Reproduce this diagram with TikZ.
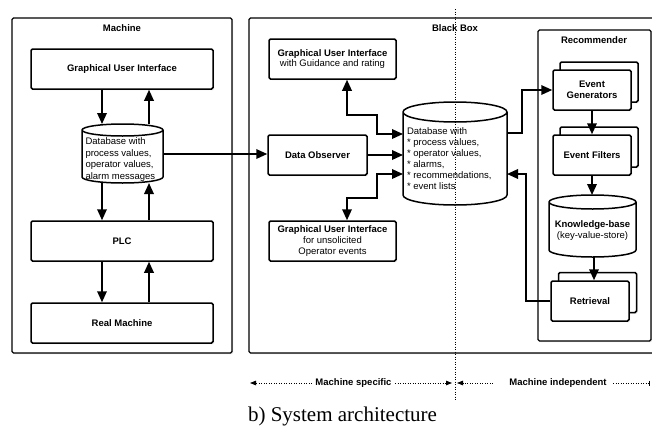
\documentclass[tikz,border=0pt]{standalone}
\usepackage{fontspec}
\setmainfont{Liberation Serif}
\newfontfamily\hv{Liberation Sans}
\usetikzlibrary{arrows.meta,calc,shadows}

\newcommand\dbcyl[3]{% node name, rx, ry
  \draw[dbline] let \p1=(#1.north west), \p2=(#1.south east) in
    (\x1,\y1-#3) -- (\x1,\y2+#3)
    arc[start angle=180,end angle=360,x radius=#2,y radius=#3]
    -- (\x2,\y1-#3)
    arc[start angle=0,end angle=180,x radius=#2,y radius=#3] -- cycle
    (\x1,\y1-#3) arc[start angle=180,end angle=360,x radius=#2,y radius=#3];}

\tikzset{
  every node/.style={font=\hv\fontsize{9.5}{11}\selectfont},
  frame/.style={draw, line width=1.3pt, rounded corners=1.5pt, fill=white,
    drop shadow={shadow xshift=1.2pt, shadow yshift=-1.2pt, opacity=0.25}},
  box/.style={draw, line width=1.5pt, rounded corners=1.5pt, fill=white,
    inner sep=0pt, align=center,
    drop shadow={shadow xshift=1.2pt, shadow yshift=-1.2pt, opacity=0.25}},
  arr/.style={line width=1.8pt, -{Triangle[length=11pt,width=9.5pt]}},
  arrb/.style={line width=1.8pt, {Triangle[length=11pt,width=9.5pt]}-{Triangle[length=11pt,width=9.5pt]}},
  dbline/.style={line width=1.5pt},
  dots/.style={line width=0.8pt, dash pattern=on 0.8pt off 1.7pt},
  lbl/.style={font=\hv\bfseries\fontsize{9.5}{11}\selectfont},
  hole/.style={inner sep=0pt, outer sep=0pt},
}

\begin{document}
\begin{tikzpicture}[x=1pt,y=-1pt]
\useasboundingbox (0,0) rectangle (652,431);

% frames
\node[frame, minimum width=220pt, minimum height=335pt] (machine) at (122,185.5) {};
\node[lbl] (machinel) at (122,28) {Machine};
\node[frame, minimum width=416pt, minimum height=335pt] (bbox) at (457,185.5) {};
\node[lbl] (bboxl) at (455,28) {Black Box};
\node[frame, minimum width=113pt, minimum height=311pt] (rec) at (594.5,185.5) {};
\node[lbl] (recl) at (594,40) {Recommender};

% machine side
\node[box, minimum width=182pt, minimum height=40pt] (gui1) at (122,69) {\bfseries Graphical User Interface};
\node[box, minimum width=182pt, minimum height=40pt] (plc) at (122,241) {\bfseries PLC};
\node[box, minimum width=182pt, minimum height=40pt] (real) at (122,323) {\bfseries Real Machine};
\node[hole, minimum width=81pt, minimum height=59pt] (mdb) at (122.5,153.5) {};
\dbcyl{mdb}{40.5pt}{6pt}
\node[hole, anchor=north west, align=left, font=\hv\fontsize{9.5}{11.7}\selectfont] (mdbt) at (85.5,137.5)
  {Database with\\process values,\\operator values,\\alarm messages};

\draw[arr] ([xshift=-20pt]gui1.south) -- ([xshift=-20pt]gui1.south |- mdb.north);
\draw[arr] ([xshift=27pt]gui1.south |- mdb.north) -- ([xshift=27pt]gui1.south);
\draw[arr] ([xshift=-20pt]plc.north |- mdb.south) -- ([xshift=-20pt]plc.north);
\draw[arr] ([xshift=27pt]plc.north) -- ([xshift=27pt]plc.north |- mdb.south);
\draw[arr] ([xshift=-20pt]plc.south) -- ([xshift=-20pt]real.north);
\draw[arr] ([xshift=27pt]real.north) -- ([xshift=27pt]plc.south);

% black box
\node[box, minimum width=127pt, minimum height=40pt, font=\hv\fontsize{9.5}{10.5}\selectfont] (g2) at (332.5,59)
  {\bfseries Graphical User Interface\\with Guidance and rating};
\node[box, minimum width=99pt, minimum height=40pt] (do) at (317.5,155) {\bfseries Data Observer};
\node[box, minimum width=127pt, minimum height=40pt, font=\hv\fontsize{9.5}{10.7}\selectfont] (g3) at (332.5,241)
  {\bfseries Graphical User Interface\\for unsolicited\\Operator events};
\node[hole, minimum width=104pt, minimum height=103pt] (bdb) at (455,153.5) {};
\dbcyl{bdb}{52pt}{10pt}
\node[hole, anchor=north west, align=left] (bdbt) at (407,127.5)
  {Database with\\* process values,\\* operator values,\\* alarms,\\* recommendations,\\* event lists};

\draw[arr] ([yshift=-0.5pt]mdb.east) -- ([yshift=-0.5pt]mdb.east -| do.west);
\draw[arr] (do.east) -- (do.east -| bdb.west);
\draw[arrb] ([xshift=14.5pt]g2.south) |- (377,115) |- ([yshift=19.5pt]bdb.west);
\draw[arrb] ([xshift=14.5pt]g3.north) |- (377,198) |- ([yshift=-20.5pt]bdb.west);

% recommender
\node[box, minimum width=78pt, minimum height=40pt] (egb) at (599,82) {};
\node[box, minimum width=78pt, minimum height=40pt] (eg) at (592,90) {\bfseries Event\\\bfseries Generators};
\node[box, minimum width=78pt, minimum height=40pt] (efb) at (599,147) {};
\node[box, minimum width=78pt, minimum height=40pt] (ef) at (592,155) {\bfseries Event Filters};
\node[hole, minimum width=87pt, minimum height=62pt] (kb) at (592.5,226) {};
\dbcyl{kb}{43.5pt}{7pt}
\node[hole, align=center] (kbt) at (592.5,231) {\bfseries Knowledge-base\\(key-value-store)};
\node[box, minimum width=78pt, minimum height=40pt] (retb) at (597.5,292.5) {};
\node[box, minimum width=78pt, minimum height=40pt] (ret) at (590,301) {\bfseries Retrieval};

\draw[arr] (eg.south) -- (ef.north);
\draw[arr] (ef.south) -- (ef.south |- kb.north);
\draw[arr] ([xshift=1.5pt]kb.south) -- ([xshift=1.5pt]kb.south |- ret.north);
\draw[arr] (ret.west) -- ([xshift=-24pt]ret.west) |- ([yshift=-20.5pt]bdb.east);
\draw[arr] ([yshift=20.5pt]bdb.east) -- ++(15pt,0pt) |- (eg.west);

% bottom scale
\node[lbl] (ms) at (353.5,383) {Machine specific};
\node[lbl] (mi) at (558,383) {Machine independent};
\coordinate (msl) at (250,383);
\coordinate (msr) at (452,383);
\coordinate (mil) at (457,383);
\coordinate (mir) at (650,383);
\draw[dots, -{Triangle[length=6pt,width=4.5pt]}] (ms.west) -- (msl);
\draw[dots, -{Triangle[length=6pt,width=4.5pt]}] (ms.east) -- (msr);
\draw[dots, -{Triangle[length=6pt,width=4.5pt]}] ([xshift=-13pt]mi.west) -- (mil);
\draw[dots, -{Bar[width=5pt]}] ([xshift=3pt]mi.east) -- (mir);

\coordinate (vt) at (455,9);
\coordinate (vb) at (455,400);
\draw[dots] (vt) -- (vb);

\node[font=\fontsize{21}{24}\selectfont] (cap) at (342.5,416) {b) System architecture};
\end{tikzpicture}
\end{document}
